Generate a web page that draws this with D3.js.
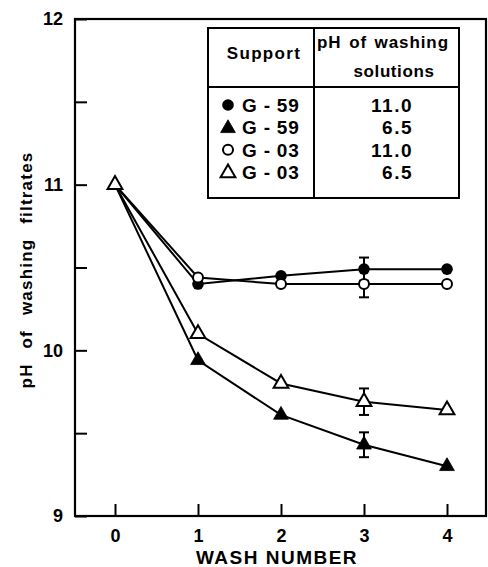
<!DOCTYPE html>
<html>
<head>
<meta charset="utf-8">
<script src="https://cdn.jsdelivr.net/npm/d3@7"></script>
<style>
  html, body { margin: 0; padding: 0; background: #fff; }
  svg { display: block; }
  text { font-family: "Liberation Sans", Arial, sans-serif; font-weight: bold; fill: #000; }
</style>
</head>
<body>
<svg id="chart" width="488" height="567"></svg>
<script>
// Wash number on the x axis, pH of the filtrate on the y axis
const washes = [0, 1, 2, 3, 4];
const g59_ph110 = [11.0, 10.40, 10.45, 10.49, 10.49];
const g59_ph65  = [11.0, 9.94, 9.61, 9.43, 9.30];
const g03_ph110 = [11.0, 10.44, 10.40, 10.40, 10.40];
const g03_ph65  = [11.0, 10.10, 9.80, 9.69, 9.64];
// standard deviation shown at wash 3 only
const errWash = 3;
const errors = { g59_ph110: 0.07, g59_ph65: 0.075, g03_ph110: 0.08, g03_ph65: 0.08 };

const xTicks = [0, 1, 2, 3, 4];
const yTicks = [9, 9.5, 10, 10.5, 11, 11.5, 12];
const yLabels = [9, 10, 11, 12];

const legendSupports = ["G - 59", "G - 59", "G - 03", "G - 03"];
const legendSolutions = ["11.0", "6.5", "11.0", "6.5"];

const series = [
  { key: "g59_ph110", values: g59_ph110, shape: "circle",   filled: true  },
  { key: "g03_ph110", values: g03_ph110, shape: "circle",   filled: false },
  { key: "g59_ph65",  values: g59_ph65,  shape: "triangle", filled: true  },
  { key: "g03_ph65",  values: g03_ph65,  shape: "triangle", filled: false }
];

const svg = d3.select("#chart");
const frame = { left: 75, right: 486, top: 19, bottom: 516 };

const x = d3.scaleLinear().domain([0, 4]).range([115, 447]);
const y = d3.scaleLinear().domain([9, 12]).range([frame.bottom, frame.top]);

// plot frame
svg.append("rect")
  .attr("x", frame.left).attr("y", frame.top)
  .attr("width", frame.right - frame.left).attr("height", frame.bottom - frame.top)
  .attr("fill", "none").attr("stroke", "#000").attr("stroke-width", 2.2);

// y axis: inward ticks, labels on integers only
const yAxis = svg.append("g")
  .attr("transform", `translate(${frame.left},0)`)
  .call(d3.axisRight(y).tickValues(yTicks).tickSize(12).tickFormat(""));
yAxis.select(".domain").remove();
yAxis.selectAll("line").attr("stroke", "#000").attr("stroke-width", 2);

svg.append("g").selectAll("text").data(yLabels).join("text")
  .attr("x", 63).attr("y", d => y(d)).attr("dy", "0.36em")
  .attr("text-anchor", "end").attr("font-size", 18)
  .text(d => d);

// x axis: ticks pointing up into the plot
const xAxis = svg.append("g")
  .attr("transform", `translate(0,${frame.bottom})`)
  .call(d3.axisBottom(x).tickValues(xTicks).tickSize(-12).tickPadding(22).tickFormat(d3.format("d")));
xAxis.select(".domain").remove();
xAxis.selectAll("line").attr("stroke", "#000").attr("stroke-width", 2);
xAxis.selectAll("text").attr("font-size", 18).attr("font-weight", "bold")
  .attr("font-family", "Liberation Sans, Arial, sans-serif").attr("dy", "0.2em");

// axis titles
svg.append("text")
  .attr("x", 277).attr("y", 564)
  .attr("text-anchor", "middle").attr("font-size", 19).attr("letter-spacing", 1.5)
  .text("WASH NUMBER");

svg.append("text")
  .attr("transform", "translate(32,270) rotate(-90)")
  .attr("text-anchor", "middle").attr("font-size", 17)
  .attr("letter-spacing", 1.2).attr("word-spacing", 9)
  .text("pH of washing filtrates");

// lines
const line = d3.line().x((d, i) => x(washes[i])).y(d => y(d));
const plot = svg.append("g");
series.forEach(s => {
  plot.append("path").datum(s.values)
    .attr("d", line).attr("fill", "none")
    .attr("stroke", "#000").attr("stroke-width", 2);
});

// error bars at wash 3
series.forEach(s => {
  const e = errors[s.key];
  const v = s.values[washes.indexOf(errWash)];
  const cx = x(errWash);
  const g = plot.append("g").attr("stroke", "#000").attr("stroke-width", 2);
  g.append("line").attr("x1", cx).attr("x2", cx).attr("y1", y(v - e)).attr("y2", y(v + e));
  [v - e, v + e].forEach(t => {
    g.append("line").attr("x1", cx - 5).attr("x2", cx + 5).attr("y1", y(t)).attr("y2", y(t));
  });
});

// markers
const triSym = d3.symbol().type(d3.symbolTriangle).size(95);
function marker(g, s, cx, cy) {
  if (s.shape === "circle") {
    g.append("circle").attr("cx", cx).attr("cy", cy)
      .attr("r", s.filled ? 5.8 : 5)
      .attr("fill", s.filled ? "#000" : "#fff")
      .attr("stroke", "#000").attr("stroke-width", s.filled ? 0 : 2);
  } else {
    g.append("path").attr("d", triSym())
      .attr("transform", `translate(${cx},${cy})`)
      .attr("fill", s.filled ? "#000" : "#fff")
      .attr("stroke", "#000").attr("stroke-width", s.filled ? 0.8 : 2)
      .attr("stroke-linejoin", "miter");
  }
}
series.forEach(s => {
  s.values.forEach((v, i) => {
    if (washes[i] === 0) return; // common starting point drawn once below
    marker(plot, s, x(washes[i]), y(v));
  });
});
// shared starting point at wash 0
marker(plot, series[3], x(0), y(g03_ph65[0]));

// legend table
const lg = svg.append("g");
const box = { l: 208, r: 459, t: 28, b: 198, col: 314, head: 87 };
lg.append("rect").attr("x", box.l).attr("y", box.t)
  .attr("width", box.r - box.l).attr("height", box.b - box.t)
  .attr("fill", "#fff").attr("stroke", "#000").attr("stroke-width", 2);
lg.append("line").attr("x1", box.col).attr("x2", box.col).attr("y1", box.t).attr("y2", box.b)
  .attr("stroke", "#000").attr("stroke-width", 2);
lg.append("line").attr("x1", box.l).attr("x2", box.r).attr("y1", box.head).attr("y2", box.head)
  .attr("stroke", "#000").attr("stroke-width", 2);

lg.append("text").attr("x", 264).attr("y", 59).attr("text-anchor", "middle")
  .attr("font-size", 17).attr("letter-spacing", 1.3).text("Support");
lg.append("text").attr("x", 383).attr("y", 48).attr("text-anchor", "middle")
  .attr("font-size", 17).attr("letter-spacing", 0.9).attr("word-spacing", 2).text("pH of washing");
lg.append("text").attr("x", 394).attr("y", 77).attr("text-anchor", "middle")
  .attr("font-size", 17).attr("letter-spacing", 0.6).text("solutions");

const rowY = d3.scalePoint().domain(d3.range(4)).range([105, 172]);
const legendOrder = [series[0], series[2], series[1], series[3]];
legendOrder.forEach((s, i) => {
  const cy = rowY(i);
  marker(lg, s, 228, cy + (s.shape === "triangle" ? 1 : 0));
  lg.append("text").attr("x", 242).attr("y", cy).attr("dy", "0.36em")
    .attr("font-size", 19).attr("letter-spacing", 0.8).text(legendSupports[i]);
  lg.append("text").attr("x", 413).attr("y", cy).attr("dy", "0.36em")
    .attr("text-anchor", "end").attr("font-size", 19).attr("letter-spacing", 1.5)
    .text(legendSolutions[i]);
});
</script>
</body>
</html>
